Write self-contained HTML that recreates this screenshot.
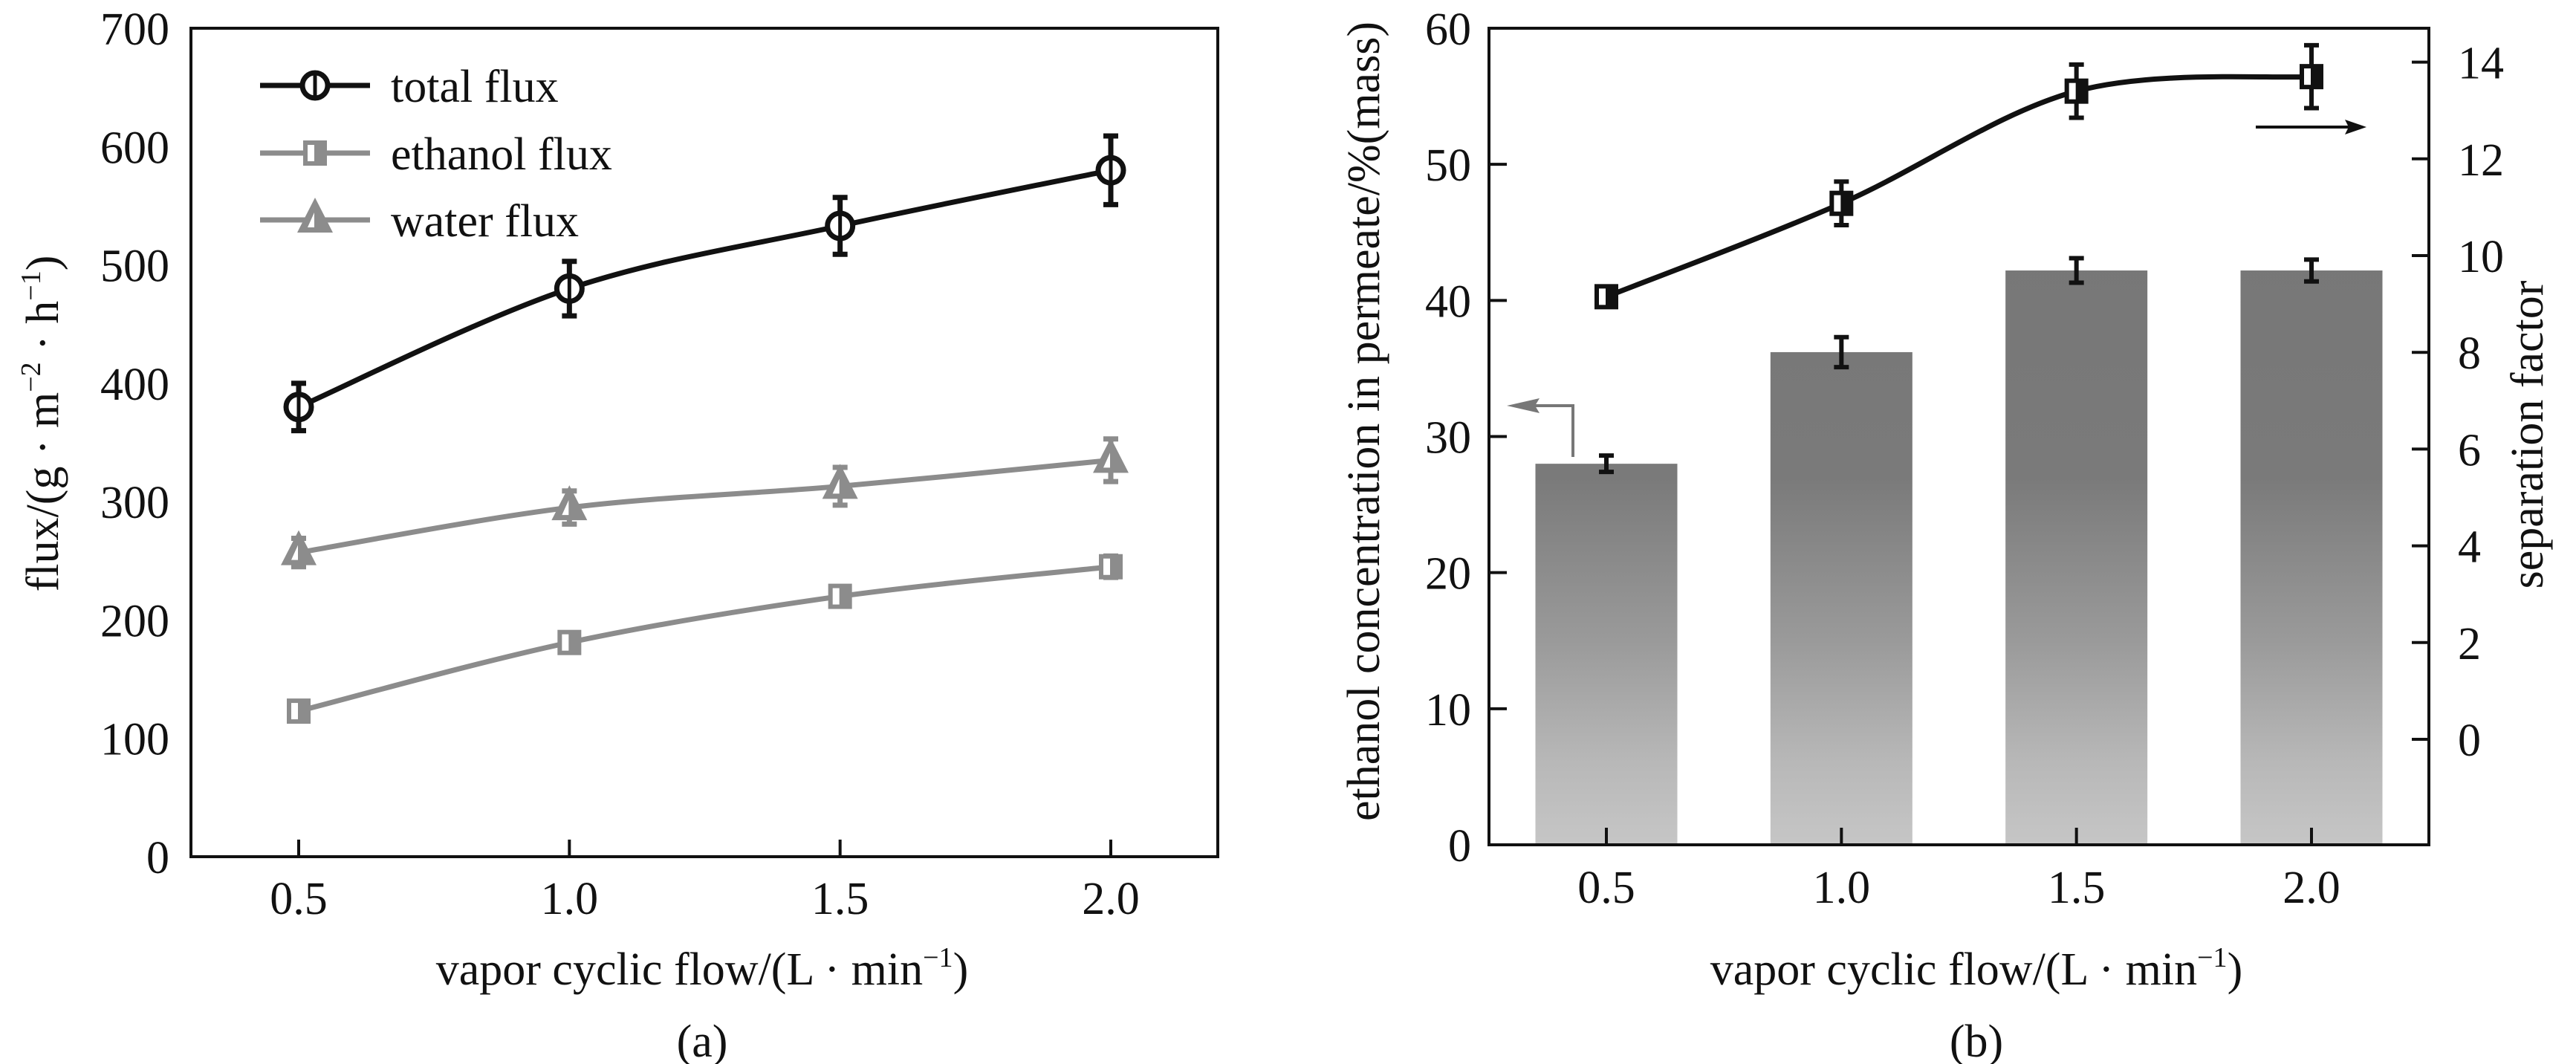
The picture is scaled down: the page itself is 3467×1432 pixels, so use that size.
<!DOCTYPE html>
<html><head><meta charset="utf-8"><style>
html,body{margin:0;padding:0;background:#fff;}
svg{display:block;font-family:"Liberation Serif",serif;}
</style></head><body>
<svg id="chart" width="3467" height="1432" viewBox="0 0 3467 1432">
<defs>
<linearGradient id="barGrad" gradientUnits="userSpaceOnUse" x1="0" y1="38" x2="0" y2="1137">
<stop offset="0" stop-color="#747474"/>
<stop offset="0.55" stop-color="#7a7a7a"/>
<stop offset="0.75" stop-color="#9a9a9a"/>
<stop offset="0.9" stop-color="#b8b8b8"/>
<stop offset="1" stop-color="#c6c6c6"/>
</linearGradient>
</defs>
<g id="pa"></g>
<g id="pb"></g>
</svg>
<script>
// Panel (a) data
const xCatsA = [0.5, 1.0, 1.5, 2.0];
const totalFlux = [380, 480, 533, 580];
const totalErr = [20, 23, 24, 29];
const ethanolFlux = [123, 181, 220, 245];
const ethanolErr = [6, 6, 7, 9];
const waterFlux = [257, 295, 313, 335];
const waterErr = [12, 14, 16, 18];
const yTicksA = [0, 100, 200, 300, 400, 500, 600, 700];
const xTickLabels = ["0.5", "1.0", "1.5", "2.0"];
// Panel (b) data
const concValues = [28, 36.2, 42.2, 42.2];
const concErr = [0.6, 1.1, 0.9, 0.8];
const sepFactor = [9.15, 11.08, 13.4, 13.7];
const sepErr = [0.15, 0.45, 0.55, 0.65];
const yTicksB = [0, 10, 20, 30, 40, 50, 60];
const yTicksB2 = [0, 2, 4, 6, 8, 10, 12, 14];

const NS = "http://www.w3.org/2000/svg";
function mk(parent, tag, attrs, text) {
  const e = document.createElementNS(NS, tag);
  for (const k in attrs) e.setAttribute(k, attrs[k]);
  if (text !== undefined) e.textContent = text;
  parent.appendChild(e);
  return e;
}
function smoothPath(pts) {
  let d = "M" + pts[0][0] + "," + pts[0][1];
  for (let i = 0; i < pts.length - 1; i++) {
    const p0 = pts[i - 1] || pts[i], p1 = pts[i], p2 = pts[i + 1], p3 = pts[i + 2] || p2;
    const c1 = [p1[0] + (p2[0] - p0[0]) / 6, p1[1] + (p2[1] - p0[1]) / 6];
    const c2 = [p2[0] - (p3[0] - p1[0]) / 6, p2[1] - (p3[1] - p1[1]) / 6];
    d += " C" + c1 + " " + c2 + " " + p2;
  }
  return d;
}
const gray = "#8c8c8c";

// ---------- Panel A ----------
const pa = document.getElementById("pa");
const A = {l: 257, r: 1639, t: 38, b: 1153};
const xA = v => 402 + (v - 0.5) * (1495 - 402) / 1.5;
const yA = v => A.b - v / 700 * (A.b - A.t);
let e;
e = mk(pa, "rect", {x: A.l, y: A.t, width: A.r - A.l, height: A.b - A.t, fill: "none", stroke: "#111", "stroke-width": 4});


yTicksA.forEach(t => {
  e = mk(pa, "text", {x: 228, y: yA(t) + 22, "text-anchor": "end", "font-size": 62, fill: "#111"}, String(t));
  
  
});
xCatsA.forEach((v, i) => {
  e = mk(pa, "line", {x1: xA(v), x2: xA(v), y1: A.b, y2: A.b - 23, stroke: "#111", "stroke-width": 4});
  
  
  e = mk(pa, "text", {x: xA(v), y: 1230, "text-anchor": "middle", "font-size": 62, fill: "#111"}, xTickLabels[i]);
  
  
});
e = mk(pa, "text", {x: 945, y: 1325, "text-anchor": "middle", "font-size": 62, fill: "#111"});
e.innerHTML = 'vapor cyclic flow/(L · min<tspan dy="-24" font-size="38">−1</tspan><tspan dy="24">)</tspan>';


e = mk(pa, "text", {x: 945, y: 1422, "text-anchor": "middle", "font-size": 62, fill: "#111"}, "(a)");


e = mk(pa, "text", {x: 0, y: 0, "text-anchor": "middle", "font-size": 62, fill: "#111", transform: "translate(78,570) rotate(-90)"});
e.innerHTML = 'flux/(g · m<tspan dy="-24" font-size="38">−2</tspan><tspan dy="24"> · h</tspan><tspan dy="-24" font-size="38">−1</tspan><tspan dy="24">)</tspan>';



function drawSeries(vals, errs, color, marker, name) {
  const pts = xCatsA.map((v, i) => [xA(v), yA(vals[i])]);
  e = mk(pa, "path", {d: smoothPath(pts), fill: "none", stroke: color, "stroke-width": 7});
  
  
  pts.forEach((p, i) => {
    const y1 = yA(vals[i] + errs[i]), y2 = yA(vals[i] - errs[i]);
    e = mk(pa, "path", {d: `M${p[0]},${y1}V${y2}M${p[0]-10},${y1}h20M${p[0]-10},${y2}h20`, stroke: color, "stroke-width": 7, fill: "none"});
    
    
    drawMarker(pa, marker, p[0], p[1], color, name + '-point');
  });
}
function drawMarker(g, marker, x, y, color, name) {
  let m;
  if (marker === "circle") {
    m = mk(g, "g", {});
    mk(m, "circle", {cx: x, cy: y, r: 17, fill: "#fff", stroke: color, "stroke-width": 7});
    mk(m, "line", {x1: x, x2: x, y1: y - 17, y2: y + 17, stroke: color, "stroke-width": 5});
  } else if (marker === "square") {
    m = mk(g, "g", {});
    mk(m, "rect", {x: x - 16, y: y - 17, width: 32, height: 34, fill: color});
    mk(m, "rect", {x: x - 10, y: y - 11, width: 9, height: 22, fill: "#fff"});
  } else {
    m = mk(g, "g", {});
    mk(m, "path", {d: `M${x},${y-30}L${x+24},${y+17}L${x-24},${y+17}Z`, fill: color});
    mk(m, "path", {d: `M${x-1},${y-10}L${x-1},${y+10}L${x-10},${y+10}Z`, fill: "#fff"});
  }
  
  
}
drawSeries(waterFlux, waterErr, gray, "tri", "water-flux");
drawSeries(ethanolFlux, ethanolErr, gray, "square", "ethanol-flux");
drawSeries(totalFlux, totalErr, "#111", "circle", "total-flux");

const legend = [["total flux", "#111", "circle", 115], ["ethanol flux", gray, "square", 206], ["water flux", gray, "tri", 296]];
legend.forEach(l => {
  const g = mk(pa, "g", {});
  
  
  mk(g, "line", {x1: 350, x2: 498, y1: l[3], y2: l[3], stroke: l[1], "stroke-width": 7});
  drawMarker(g, l[2], 424, l[3], l[1], 'legend-marker');
  mk(g, "text", {x: 526, y: l[3] + 22, "font-size": 62, fill: "#111"}, l[0]);
});

// ---------- Panel B ----------
const pb = document.getElementById("pb");
const B = {l: 2004, r: 3269, t: 38, b: 1137};
const xB = v => 2162 + (v - 0.5) * (3111 - 2162) / 1.5;
const yB = v => B.b - v / 60 * (B.b - B.t);
const yB2 = v => 995 - v * 65.1;
const barW = 191;
concValues.forEach((v, i) => {
  const x = xB(xCatsA[i]);
  e = mk(pb, "rect", {x: x - barW / 2, y: yB(v), width: barW, height: B.b - yB(v), fill: "url(#barGrad)"});
  
  
  const y1 = yB(v + concErr[i]), y2 = yB(v - concErr[i]);
  e = mk(pb, "path", {d: `M${x},${y1}V${y2}M${x-10},${y1}h20M${x-10},${y2}h20`, stroke: "#111", "stroke-width": 6, fill: "none"});
  
  
});
e = mk(pb, "rect", {x: B.l, y: B.t, width: B.r - B.l, height: B.b - B.t, fill: "none", stroke: "#111", "stroke-width": 4});


yTicksB.forEach(t => {
  e = mk(pb, "line", {x1: B.l, x2: B.l + 24, y1: yB(t), y2: yB(t), stroke: "#111", "stroke-width": 4});
  
  
  e = mk(pb, "text", {x: 1980, y: yB(t) + 22, "text-anchor": "end", "font-size": 62, fill: "#111"}, String(t));
  
  
});
yTicksB2.forEach(t => {
  e = mk(pb, "line", {x1: B.r, x2: B.r - 23, y1: yB2(t), y2: yB2(t), stroke: "#111", "stroke-width": 4});
  
  
  e = mk(pb, "text", {x: 3308, y: yB2(t) + 22, "font-size": 62, fill: "#111"}, String(t));
  
  
});
xCatsA.forEach((v, i) => {
  e = mk(pb, "line", {x1: xB(v), x2: xB(v), y1: B.b, y2: B.b - 23, stroke: "#111", "stroke-width": 4});
  
  
  e = mk(pb, "text", {x: xB(v), y: 1215, "text-anchor": "middle", "font-size": 62, fill: "#111"}, xTickLabels[i]);
  
  
});
const sPts = xCatsA.map((v, i) => [xB(v), yB2(sepFactor[i])]);
e = mk(pb, "path", {d: smoothPath(sPts), fill: "none", stroke: "#111", "stroke-width": 7});


sPts.forEach((p, i) => {
  const y1 = yB2(sepFactor[i] + sepErr[i]), y2 = yB2(sepFactor[i] - sepErr[i]);
  e = mk(pb, "path", {d: `M${p[0]},${y1}V${y2}M${p[0]-10},${y1}h20M${p[0]-10},${y2}h20`, stroke: "#111", "stroke-width": 6, fill: "none"});
  
  
  drawMarker(pb, "square", p[0], p[1], "#111", 'separation-point');
});
e = mk(pb, "path", {d: "M2117,615V546H2060", fill: "none", stroke: "#777", "stroke-width": 4});


e = mk(pb, "path", {d: "M2028,546L2072,536L2066,546L2072,556Z", fill: "#777"});


e = mk(pb, "path", {d: "M3036,171H3172", fill: "none", stroke: "#111", "stroke-width": 4});


e = mk(pb, "path", {d: "M3185,171L3156,161L3161,171L3156,181Z", fill: "#111"});


e = mk(pb, "text", {x: 2660, y: 1325, "text-anchor": "middle", "font-size": 62, fill: "#111"});
e.innerHTML = 'vapor cyclic flow/(L · min<tspan dy="-24" font-size="38">−1</tspan><tspan dy="24">)</tspan>';


e = mk(pb, "text", {x: 2660, y: 1422, "text-anchor": "middle", "font-size": 62, fill: "#111"}, "(b)");


e = mk(pb, "text", {x: 0, y: 0, "text-anchor": "middle", "font-size": 62, fill: "#111", transform: "translate(1856,567) rotate(-90)"}, "ethanol concentration in permeate/%(mass)");


e = mk(pb, "text", {x: 0, y: 0, "text-anchor": "middle", "font-size": 62, fill: "#111", transform: "translate(3422,585) rotate(-90)"}, "separation factor");


</script>
</body></html>
